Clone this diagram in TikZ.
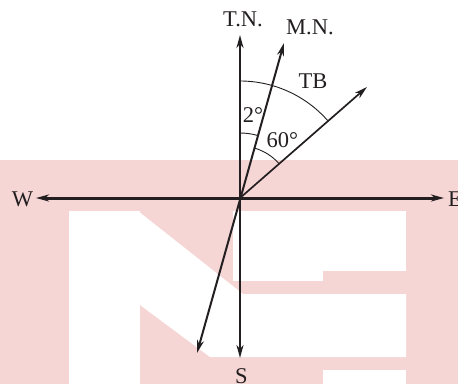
\documentclass[tikz,border=0pt]{standalone}
\usepackage{fontspec}
\setmainfont{Liberation Serif}
\usepackage{tikz}
\usetikzlibrary{arrows.meta}
\definecolor{wmpink}{RGB}{246,213,213}
\definecolor{ink}{RGB}{35,31,32}

\begin{document}
\begin{tikzpicture}[x=1pt,y=1pt,
    font=\fontsize{22.5}{26}\selectfont,
    tip/.tip={Stealth[length=13pt,width=7pt,inset=4pt]},
    dirline/.style={draw=ink, line width=2pt},
    anglearc/.style={draw=ink, line width=0.9pt},
    lbl/.style={text=ink, inner sep=1pt}]
    \useasboundingbox (-240,-186) rectangle (218,198);
    % watermark behind the sketch
    \fill[wmpink] (-240,-186) rectangle (218,38);
    \fill[white] (-171,-13) rectangle (-100,-186);
    \fill[white] (-102,-13) -- (3,-96) -- (166,-96) -- (166,-159) -- (-30,-159) -- (-100,-107) -- cycle;
    \fill[white] (-7,-13) rectangle (166,-73);
    \fill[white] (-7,-73) rectangle (83,-83);
    \fill[white] (83,-172) rectangle (166,-186);

    \coordinate (o) at (0,0);
    \coordinate (tn) at (0,163);
    \coordinate (s) at (0,-160);
    \coordinate (w) at (-204,0);
    \coordinate (e) at (204,0);
    \coordinate (mn) at (44,155);
    \coordinate (mns) at (-43,-155);
    \coordinate (tb) at (127,111);

    % directions
    \draw[dirline, tip-tip, line width=3pt] (w) -- (e);
    \draw[dirline, tip-tip] (s) -- (tn);
    \draw[dirline, tip-tip] (mns) -- (mn);
    \draw[dirline, -tip, line width=1.7pt] (o) -- (tb);

    % angles
    \draw[anglearc] (0,117) arc[start angle=90, end angle=41.2, radius=117];
    \draw[anglearc] (0,65) arc[start angle=90, end angle=74.2, radius=65];
    \draw[anglearc] (74.2:52) arc[start angle=74.2, end angle=41.2, radius=52];

    \node[lbl] (tnl) at (3,179) {T.N.};
    \node[lbl] (mnl) at (70,170.5) {M.N.};
    \node[lbl] (tbl) at (73,117) {TB};
    \node[lbl] (two) at (13,83) {2°};
    \node[lbl] (sixty) at (42.5,58) {60°};
    \node[lbl] (wl) at (-217.5,-1) {W};
    \node[lbl, anchor=west] (el) at (207,-1) {E};
    \node[lbl] (sl) at (1.5,-178) {S};
\end{tikzpicture}
\end{document}
